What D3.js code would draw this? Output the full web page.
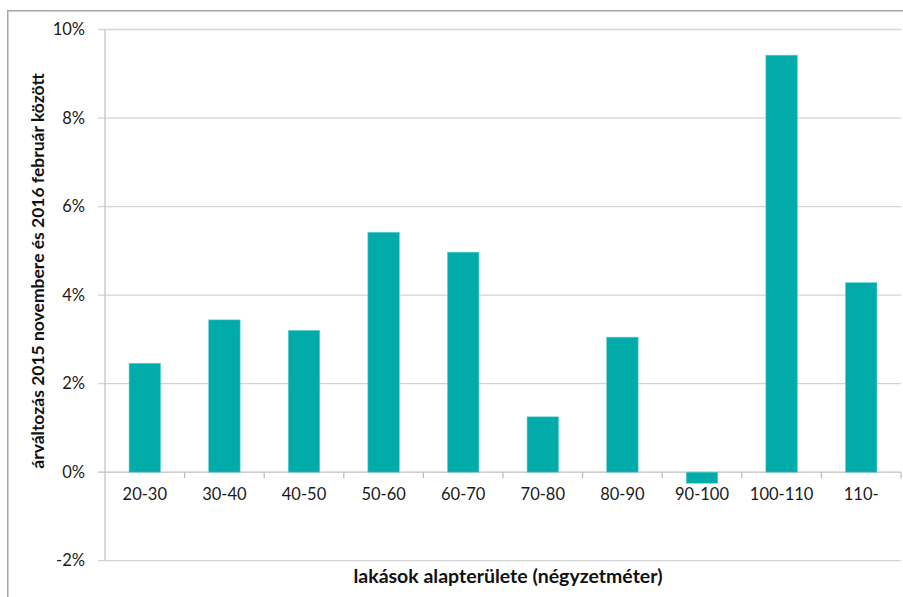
<!DOCTYPE html>
<html>
<head>
<meta charset="utf-8">
<script src="https://cdn.jsdelivr.net/npm/d3@7"></script>
<style>
  html, body { margin: 0; padding: 0; background: #fff; }
  svg { display: block; }
</style>
</head>
<body>
<svg id="chart" width="903" height="597"></svg>
<script>
const categories = ["20-30", "30-40", "40-50", "50-60", "60-70", "70-80", "80-90", "90-100", "100-110", "110-"];
const values = [2.46, 3.44, 3.20, 5.42, 4.97, 1.25, 3.05, -0.25, 9.42, 4.28];
const yTicks = [-2, 0, 2, 4, 6, 8, 10];
const xTitle = "lakások alapterülete (négyzetméter)";
const yTitle = "árváltozás 2015 novembere és 2016 február között";

const svg = d3.select("#chart");
const FONT = "Lato, 'Open Sans', sans-serif";

const plot = { left: 105, right: 901, top: 29.5, bottom: 560.7 };

// outer frame
svg.append("rect")
  .attr("x", 7.75).attr("y", 10.75)
  .attr("width", 1000).attr("height", 1000)
  .attr("fill", "none").attr("stroke", "#a6a6a6").attr("stroke-width", 1.5);

const x = d3.scaleBand().domain(categories).range([plot.left, plot.right]).paddingInner(0.605).paddingOuter(0.3025);
const xCat = d3.scaleBand().domain(categories).range([plot.left, plot.right]);
const y = d3.scaleLinear().domain([-2, 10]).range([plot.bottom, plot.top]);

// gridlines
svg.append("g").selectAll("line").data(yTicks).join("line")
  .attr("x1", plot.left - 7).attr("x2", plot.right)
  .attr("y1", d => y(d)).attr("y2", d => y(d))
  .attr("stroke", d => d === 0 ? "#bfbfbf" : "#d4d4d4").attr("stroke-width", 1.3);

// y axis line
svg.append("line")
  .attr("x1", plot.left).attr("x2", plot.left)
  .attr("y1", plot.top).attr("y2", plot.bottom)
  .attr("stroke", "#c4c4c4").attr("stroke-width", 1.3);

// y tick labels
const yAxis = d3.axisLeft(y).tickValues(yTicks).tickFormat(d => d + "%").tickSize(0).tickPadding(0);
const gy = svg.append("g").attr("transform", `translate(${plot.left - 20},0)`).call(yAxis);
gy.select(".domain").remove();
gy.selectAll("text").attr("font-family", FONT).attr("font-size", 16.5).attr("fill", "#1a1a1a");

// bars
svg.append("g").selectAll("rect").data(values).join("rect")
  .attr("x", (d, i) => x(categories[i]))
  .attr("width", x.bandwidth())
  .attr("y", d => y(Math.max(0, d)))
  .attr("height", d => Math.abs(y(d) - y(0)))
  .attr("fill", "#00aba9")
  .attr("stroke", "#5fd0cc").attr("stroke-width", 0.6);

// x category ticks on the 0 line
const xTickPos = categories.slice(1).map(c => xCat(c));
xTickPos.push(plot.right);
svg.append("g").selectAll("line").data(xTickPos).join("line")
  .attr("x1", d => d).attr("x2", d => d)
  .attr("y1", y(0)).attr("y2", y(0) + 6)
  .attr("stroke", "#bfbfbf").attr("stroke-width", 1.3);

// x labels
const xAxis = d3.axisBottom(xCat).tickSize(0).tickPadding(0);
const gx = svg.append("g").attr("transform", `translate(0,${y(0) + 16})`).call(xAxis);
gx.select(".domain").remove();
gx.selectAll("text").attr("font-family", FONT).attr("font-size", 16.5).attr("fill", "#1a1a1a");

// axis titles
svg.append("text")
  .attr("x", 508).attr("y", 582.5)
  .attr("text-anchor", "middle")
  .attr("font-family", FONT).attr("font-weight", "bold").attr("font-size", 19.5)
  .attr("fill", "#111")
  .text(xTitle);

svg.append("text")
  .attr("transform", "translate(44,271) rotate(-90)")
  .attr("text-anchor", "middle")
  .attr("font-family", FONT).attr("font-weight", "bold").attr("font-size", 17.5)
  .attr("fill", "#111")
  .text(yTitle);
</script>
</body>
</html>
